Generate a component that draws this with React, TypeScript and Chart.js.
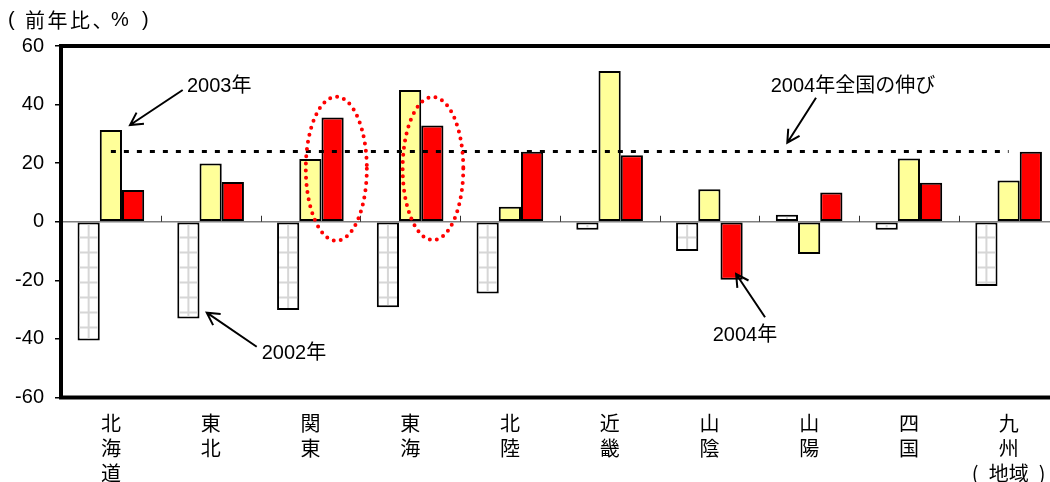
import React, { useEffect, useRef } from "react";
import { Chart, registerables } from "chart.js";

Chart.register(...registerables);

// Regions (labels are stacked one character per line)
const regionLabels: string[][] = [
  ["北", "海", "道"],
  ["東", "北"],
  ["関", "東"],
  ["東", "海"],
  ["北", "陸"],
  ["近", "畿"],
  ["山", "陰"],
  ["山", "陽"],
  ["四", "国"],
  ["九", "州", "(\u2002地域\u2002)"],
];

// Year-on-year change, %
const change2002 = [-40.5, -33.0, -30.1, -29.2, -24.5, -2.7, -10.0, 2.4, -2.7, -21.9];
const change2003 = [31.3, 19.9, 21.4, 45.0, 5.1, 51.5, 11.1, -11.0, 21.6, 14.1];
const change2004 = [10.8, 13.6, 35.6, 32.9, 23.9, 22.7, -19.8, 10.0, 13.3, 23.9];

// National growth in 2004 (dotted reference line)
const nationalChange2004 = 24;

// Value axis
const yMin = -60;
const yMax = 60;
const yStep = 20;
const yAxisUnit = "前年比、";
const yAxisPercent = "%";

// Callout notes, anchored in data coordinates: [category index, value]
const callouts = [
  { text: "2003年", textAt: [0.763, 44.4], from: [0.72, 44.98], to: [0.192, 33.03] },
  { text: "2002年", textAt: [1.512, -46.96], from: [1.462, -42.66], to: [0.961, -31.05] },
  { text: "2004年全国の伸び", textAt: [6.615, 44.4], from: [7.069, 42.35], to: [6.781, 26.99] },
  { text: "2004年", textAt: [6.033, -40.61], from: [6.558, -32.62], to: [6.268, -17.84] },
];

// Highlight rings: centre [category index, value], radii [categories, value units]
const highlights = [
  { at: [2.26, 18.11], radii: [0.306, 24.58] },
  { at: [3.229, 18.18], radii: [0.304, 24.41] },
];

const LATIN = '"Liberation Sans", Arial, "Noto Sans CJK JP", sans-serif';
const CJK = '"Noto Sans CJK JP", "Noto Sans CJK SC", sans-serif';

const decorations = {
  id: "decorations",
  afterDatasetDraw(chart: any, args: any) {
    if (args.index !== 0) return;
    // light grid hatch inside the 2002 bars
    const ctx = chart.ctx;
    const bw = 2;
    ctx.save();
    ctx.strokeStyle = "#d6d6d6";
    ctx.lineWidth = 2;
    for (const el of args.meta.data) {
      const p = el.getProps(["x", "y", "base", "width"], true);
      const left = p.x - p.width / 2 + bw;
      const right = p.x + p.width / 2 - bw;
      const top = Math.min(p.y, p.base) + bw;
      const bottom = Math.max(p.y, p.base) - bw;
      if (bottom <= top) continue;
      ctx.save();
      ctx.beginPath();
      ctx.rect(left, top, right - left, bottom - top);
      ctx.clip();
      ctx.beginPath();
      ctx.moveTo(p.x, top);
      ctx.lineTo(p.x, bottom);
      const dir = p.y > p.base ? 1 : -1;
      for (let k = 1; k < 40; k++) {
        const yy = p.base + dir * k * 15;
        ctx.moveTo(left, yy);
        ctx.lineTo(right, yy);
      }
      ctx.stroke();
      ctx.restore();
    }
    ctx.restore();
  },
  afterDatasetsDraw(chart: any) {
    const ctx = chart.ctx;
    const xs = chart.scales.x;
    const ys = chart.scales.y;
    const area = chart.chartArea;
    const px = (v: number) => xs.getPixelForValue(v);
    const py = (v: number) => ys.getPixelForValue(v);
    const y0 = py(0);

    ctx.save();

    // category boundary ticks on the zero line
    ctx.strokeStyle = "#333";
    ctx.lineWidth = 1;
    ctx.beginPath();
    for (let i = 1; i < regionLabels.length; i++) {
      const x = Math.round(px(i - 0.5)) + 0.5;
      ctx.moveTo(x, y0 - 6);
      ctx.lineTo(x, y0);
    }
    ctx.stroke();

    // national growth line
    ctx.strokeStyle = "#000";
    ctx.lineWidth = 3;
    ctx.setLineDash([5, 8]);
    ctx.beginPath();
    const yn = py(nationalChange2004);
    ctx.moveTo(px(0), yn);
    ctx.lineTo(px(regionLabels.length - 1), yn);
    ctx.stroke();

    // dotted highlight rings
    ctx.strokeStyle = "#ff0000";
    ctx.lineWidth = 4;
    ctx.lineCap = "round";
    ctx.setLineDash([0, 7.2]);
    for (const h of highlights) {
      const cx = px(h.at[0]);
      const cy = py(h.at[1]);
      const rx = px(h.at[0] + h.radii[0]) - cx;
      const ry = cy - py(h.at[1] + h.radii[1]);
      ctx.beginPath();
      ctx.ellipse(cx, cy, rx, ry, 0, 0, Math.PI * 2);
      ctx.stroke();
    }
    ctx.setLineDash([]);
    ctx.lineCap = "butt";

    // callouts
    ctx.fillStyle = "#000";
    ctx.strokeStyle = "#000";
    ctx.lineWidth = 2;
    ctx.font = `20px ${LATIN}`;
    ctx.textAlign = "left";
    ctx.textBaseline = "alphabetic";
    for (const c of callouts) {
      ctx.fillText(c.text, px(c.textAt[0]), py(c.textAt[1]));
      const fx = px(c.from[0]);
      const fy = py(c.from[1]);
      const tx = px(c.to[0]);
      const ty = py(c.to[1]);
      ctx.beginPath();
      ctx.moveTo(fx, fy);
      ctx.lineTo(tx, ty);
      const ang = Math.atan2(fy - ty, fx - tx);
      const head = 14;
      const spread = 0.5;
      ctx.moveTo(tx + head * Math.cos(ang + spread), ty + head * Math.sin(ang + spread));
      ctx.lineTo(tx, ty);
      ctx.lineTo(tx + head * Math.cos(ang - spread), ty + head * Math.sin(ang - spread));
      ctx.stroke();
    }

    // plot frame
    ctx.lineWidth = 4;
    ctx.strokeStyle = "#000";
    ctx.strokeRect(area.left, area.top, area.right - area.left, area.bottom - area.top);

    // value axis unit, set in the top-left corner
    ctx.textBaseline = "middle";
    ctx.font = `20px ${LATIN}`;
    ctx.fillText("(", 8, 20);
    ctx.fillText(yAxisPercent, 111, 20);
    ctx.fillText(")", 142, 20);
    ctx.font = `20px ${CJK}`;
    (ctx as any).letterSpacing = "2.5px";
    ctx.fillText(yAxisUnit, 25, 20);
    (ctx as any).letterSpacing = "0px";

    ctx.restore();
  },
};

export default function App() {
  const canvasRef = useRef<HTMLCanvasElement | null>(null);

  useEffect(() => {
    const canvas = canvasRef.current;
    if (!canvas) return;
    const chart = new Chart(canvas, {
      type: "bar",
      data: {
        labels: regionLabels,
        datasets: [
          {
            label: "2002年",
            data: change2002,
            backgroundColor: "#ffffff",
            borderColor: "#000000",
            borderWidth: 2,
            borderSkipped: false,
          },
          {
            label: "2003年",
            data: change2003,
            backgroundColor: "#ffff99",
            borderColor: "#000000",
            borderWidth: 2,
            borderSkipped: false,
          },
          {
            label: "2004年",
            data: change2004,
            backgroundColor: "#ff0000",
            borderColor: "#000000",
            borderWidth: 2,
            borderSkipped: false,
          },
        ],
      },
      options: {
        responsive: false,
        animation: false,
        devicePixelRatio: 1,
        datasets: {
          bar: { categoryPercentage: 0.668, barPercentage: 1 },
        },
        layout: { padding: { left: 0, top: 46, right: 11.5, bottom: 0 } },
        plugins: {
          legend: { display: false },
          tooltip: { enabled: false },
          title: { display: false },
        },
        scales: {
          x: {
            grid: { display: false, drawTicks: false },
            border: { display: false },
            ticks: {
              color: "#000",
              font: { family: CJK, size: 20, lineHeight: 1.25 },
              padding: 13,
              maxRotation: 0,
              autoSkip: false,
            },
            afterFit: (s: any) => {
              s.height = 84.5;
            },
          },
          y: {
            min: yMin,
            max: yMax,
            ticks: {
              stepSize: yStep,
              color: "#000",
              font: { family: LATIN, size: 20 },
              padding: 11,
            },
            grid: {
              color: (c: any) => (c.tick && c.tick.value === 0 ? "#808080" : "rgba(0,0,0,0)"),
              tickColor: "#000",
              tickLength: 6,
              lineWidth: 1.5,
            },
            border: { display: false },
            afterFit: (s: any) => {
              s.width = 61;
            },
          },
        },
      },
      plugins: [decorations],
    });
    return () => chart.destroy();
  }, []);

  return (
    <div
      style={{
        position: "fixed",
        left: 0,
        top: 0,
        width: 1050,
        height: 482,
        overflow: "hidden",
        background: "#fff",
      }}
    >
      <canvas ref={canvasRef} width={1070} height={482} style={{ display: "block" }} />
    </div>
  );
}
